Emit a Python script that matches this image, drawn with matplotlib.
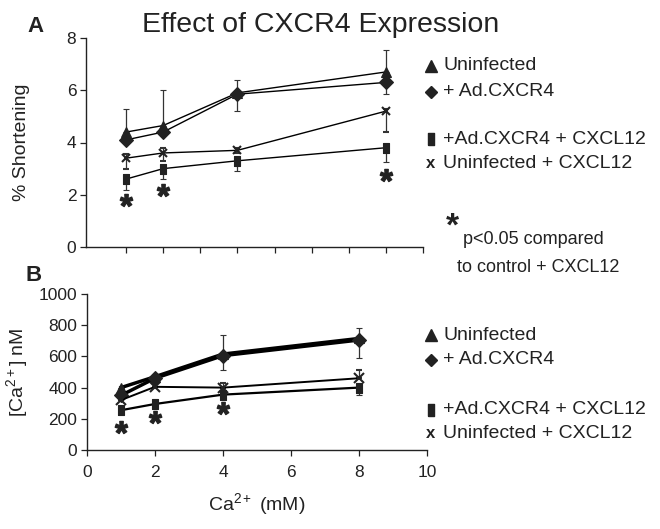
import matplotlib
matplotlib.use("Agg")
import matplotlib.pyplot as plt
from matplotlib.lines import Line2D

plt.rcParams['font.family'] = ['Liberation Sans', 'DejaVu Sans']
plt.rcParams['mathtext.fontset'] = 'custom'
plt.rcParams['mathtext.rm'] = 'Liberation Sans'
plt.rcParams['mathtext.it'] = 'Liberation Sans:italic'
plt.rcParams['mathtext.bf'] = 'Liberation Sans:bold'

# ---------------- data ----------------
ca_mM = [1, 2, 4, 8]
series_labels = ["Uninfected", "+ Ad.CXCR4", "+Ad.CXCR4 + CXCL12", "Uninfected + CXCL12"]

# Panel A: % shortening
short_uninf = [4.4, 4.65, 5.9, 6.7]
short_uninf_lo = [0.0, 0.0, 0.0, 0.0]
short_uninf_hi = [0.9, 1.35, 0.5, 0.85]
short_cxcr4 = [4.1, 4.4, 5.85, 6.3]
short_cxcr4_lo = [0.0, 0.0, 0.65, 0.45]
short_cxcr4_hi = [0.0, 0.0, 0.0, 0.0]
short_cxcr4_cxcl = [2.6, 3.0, 3.3, 3.8]
short_cxcr4_cxcl_lo = [0.4, 0.4, 0.4, 0.55]
short_cxcr4_cxcl_hi = [0.1, 0.1, 0.15, 0.1]
short_uninf_cxcl = [3.4, 3.6, 3.7, 5.2]
short_uninf_cxcl_lo = [0.4, 0.3, 0.1, 0.8]
short_uninf_cxcl_hi = [0.15, 0.2, 0.1, 0.1]
star_a_x = [1, 2, 8]
star_a_y = [1.8, 2.2, 2.75]

# Panel B: [Ca2+] nM
ca_uninf = [400, 470, 615, 715]
ca_uninf_lo = [0, 0, 0, 0]
ca_uninf_hi = [0, 0, 120, 65]
ca_cxcr4 = [350, 460, 605, 705]
ca_cxcr4_lo = [0, 0, 95, 115]
ca_cxcr4_hi = [0, 0, 0, 0]
ca_cxcr4_cxcl = [255, 295, 355, 400]
ca_cxcr4_cxcl_lo = [20, 10, 15, 45]
ca_cxcr4_cxcl_hi = [0, 0, 0, 0]
ca_uninf_cxcl = [320, 405, 400, 460]
ca_uninf_cxcl_lo = [0, 0, 0, 0]
ca_uninf_cxcl_hi = [0, 15, 30, 55]
star_b_x = [1, 2, 4]
star_b_y = [145, 210, 267]

# ---------------- figure ----------------
W, H = 660, 529
fig = plt.figure(figsize=(W / 100, H / 100), dpi=100)

def fx(px):
    return px / W

def fy(py):
    return 1 - py / H

axA = fig.add_axes([fx(86), fy(247), fx(423) - fx(86), fy(38) - fy(247)])
axB = fig.add_axes([fx(87), fy(450), fx(427) - fx(87), fy(294) - fy(450)])

rect_marker = [(-0.55, -1), (0.55, -1), (0.55, 1), (-0.55, 1), (-0.55, -1)]
star_marker = r'$\mathbf{*}$'
INK = '#222222'

def draw(ax, ys, los, his, lws, sizes):
    markers = ['^', 'D', rect_marker, 'x']
    for y, lo, hi, m, lw, ms in zip(ys, los, his, markers, lws, sizes):
        ax.errorbar(ca_mM, y, yerr=[lo, hi], fmt='-', color='black', lw=lw,
                    marker=m, markersize=ms, ecolor='#333333', elinewidth=0.9,
                    capsize=2.5, capthick=0.9, mew=1.5 if m == 'x' else 0.8,
                    mfc=INK, mec=INK, zorder=3)

draw(axA,
     [short_uninf, short_cxcr4, short_cxcr4_cxcl, short_uninf_cxcl],
     [short_uninf_lo, short_cxcr4_lo, short_cxcr4_cxcl_lo, short_uninf_cxcl_lo],
     [short_uninf_hi, short_cxcr4_hi, short_cxcr4_cxcl_hi, short_uninf_cxcl_hi],
     [1.0, 1.0, 1.0, 1.0], [7, 7, 7, 6])
axA.plot(star_a_x, star_a_y, linestyle='none', marker=star_marker,
         markersize=9, color=INK)

draw(axB,
     [ca_uninf, ca_cxcr4, ca_cxcr4_cxcl, ca_uninf_cxcl],
     [ca_uninf_lo, ca_cxcr4_lo, ca_cxcr4_cxcl_lo, ca_uninf_cxcl_lo],
     [ca_uninf_hi, ca_cxcr4_hi, ca_cxcr4_cxcl_hi, ca_uninf_cxcl_hi],
     [2.5, 2.5, 1.6, 1.4], [7, 7, 7, 7])
axB.plot(star_b_x, star_b_y, linestyle='none', marker=star_marker,
         markersize=9, color=INK)

for ax in (axA, axB):
    for s in ('top', 'right'):
        ax.spines[s].set_visible(False)
    for s in ('left', 'bottom'):
        ax.spines[s].set_linewidth(1.0)
        ax.spines[s].set_color(INK)
    ax.tick_params(direction='out', length=4, width=0.9, colors=INK,
                   labelsize=12.5, labelcolor=INK, pad=3)

axA.set_xlim(-0.08, 9.0)
axA.set_xticks(range(1, 10))
axA.set_xticklabels([])
axA.set_ylim(0, 8)
axA.set_yticks([0, 2, 4, 6, 8])
axA.set_ylabel('% Shortening', fontsize=14, color=INK)
axA.yaxis.set_label_coords((30 - 86) / 337, 0.5)

axB.set_xlim(0, 10)
axB.set_xticks([0, 2, 4, 6, 8, 10])
axB.tick_params(axis='x', pad=7)
axB.set_ylim(0, 1000)
axB.set_yticks([0, 200, 400, 600, 800, 1000])
axB.set_ylabel(r'[$\mathrm{Ca^{2+}}$] nM', fontsize=14, color=INK)
axB.yaxis.set_label_coords((30 - 87) / 340, 0.5)
axB.set_xlabel(r'$\mathrm{Ca^{2+}}$ (mM)', fontsize=14, color=INK, labelpad=8)

fig.text(fx(142), fy(32), 'Effect of CXCR4 Expression', fontsize=20.5,
         ha='left', va='baseline', color=INK)
fig.text(fx(27), fy(32), 'A', fontsize=16, fontweight='bold', ha='left', va='baseline', color=INK)
fig.text(fx(26), fy(281), 'B', fontsize=16, fontweight='bold', ha='left', va='baseline', color=INK)

# legends (manual, figure coordinates)
leg_markers = ['^', 'D', rect_marker, None]
def legend_block(rows_y):
    for lab, m, py in zip(series_labels, leg_markers, rows_y):
        if m is None:
            fig.text(fx(431), fy(py), 'x', fontsize=12, fontweight='bold',
                     ha='center', va='center', color=INK)
        else:
            fig.add_artist(Line2D([fx(431)], [fy(py)], marker=m,
                                  markersize=8 if m != 'D' else 6.5,
                                  color=INK, transform=fig.transFigure,
                                  linestyle='none'))
        fig.text(fx(443), fy(py), lab, fontsize=14, ha='left', va='center', color=INK)

legend_block([66, 92, 139, 163])
legend_block([335, 360, 410, 433])

fig.text(fx(452), fy(236), '*', fontsize=24, fontweight='bold', ha='center', va='baseline', color=INK)
fig.text(fx(463), fy(240), 'p<0.05 compared', fontsize=13, ha='left', va='center', color=INK)
fig.text(fx(457), fy(268), 'to control + CXCL12', fontsize=13, ha='left', va='center', color=INK)

fig.savefig('out.png', dpi=100)
